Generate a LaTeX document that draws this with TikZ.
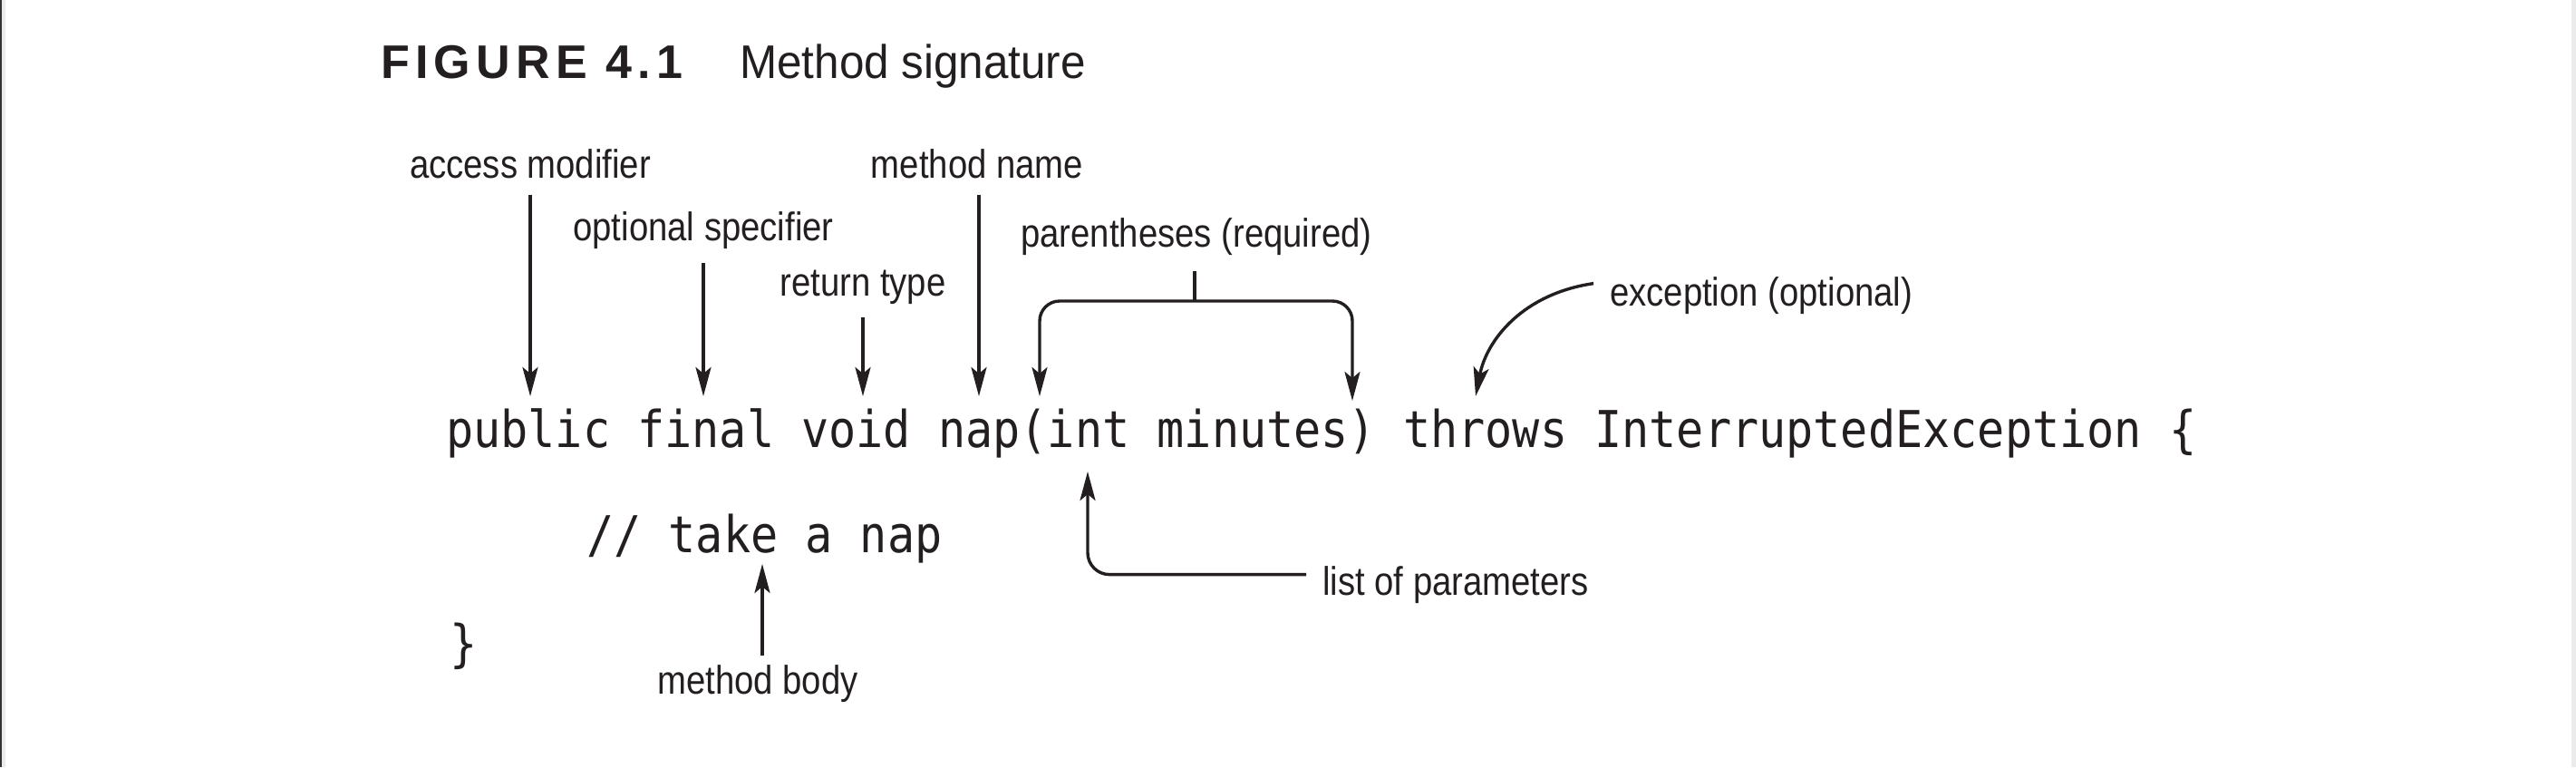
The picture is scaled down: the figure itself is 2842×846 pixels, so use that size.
\documentclass[tikz,border=0pt]{standalone}
\usepackage{fontspec}
\usetikzlibrary{arrows.meta}
\newfontfamily\labelfont[FakeStretch=0.87]{Liberation Sans}
\newfontfamily\ttlfont[FakeStretch=0.95]{Liberation Sans}
\newfontfamily\figfont[LetterSpace=12]{Liberation Sans}
\newfontfamily\codefont[FakeStretch=0.895]{DejaVu Sans Mono}
\definecolor{ink}{HTML}{231F20}
\tikzset{
  lbl/.style={inner sep=0pt, font=\labelfont\fontsize{44}{50}\selectfont, text=ink},
  codetxt/.style={inner sep=0pt, font=\codefont\fontsize{56}{62}\selectfont, text=ink},
  arr/.style={draw=ink, line width=3.4pt, -{Stealth[length=32pt,width=17pt,inset=7pt]}},
  ln/.style={draw=ink, line width=3.4pt},
}
\begin{document}
\begin{tikzpicture}[x=1pt,y=-1pt]
\useasboundingbox (0,0) rectangle (2842,846);
\fill[white] (0,0) rectangle (2842,846);
\fill[black!80] (0,0) rectangle (2,846);
\fill[black!8] (2,0) rectangle (6,846);
\fill[black!8] (2837,0) rectangle (2842,846);

% title
\node[inner sep=0pt, anchor=base west, text=ink, font=\figfont\bfseries\fontsize{52}{58}\selectfont] (fig) at (420,86) {FIGURE 4.1};
\node[inner sep=0pt, anchor=base west, text=ink, font=\ttlfont\fontsize{52}{58}\selectfont] (ttl) at (816,86) {Method signature};

% code
\node[codetxt, anchor=base west] (code) at (492,493) {public final void nap(int minutes) throws InterruptedException \{};
\node[codetxt, anchor=base west] (body) at (647,609) {// take a nap};
\node[codetxt, anchor=base west] (close) at (496,729) {\}};

% labels
\node[lbl, anchor=base] (am) at (585,196) {access modifier};
\node[lbl, anchor=base] (mn) at (1078,196) {method name};
\node[lbl, anchor=base] (os) at (776,265) {optional specifier};
\node[lbl, anchor=base] (rt) at (952,326) {return type};
\node[lbl, anchor=base] (pr) at (1320,272) {parentheses (required)};
\node[lbl, anchor=base west] (ex) at (1776,337) {exception (optional)};
\node[lbl, anchor=base west] (lp) at (1459,656) {list of parameters};
\node[lbl, anchor=base] (mb) at (836,765) {method body};

% targets
\coordinate (tam) at (585,437);
\coordinate (tos) at (776,437);
\coordinate (trt) at (952,437);
\coordinate (tmn) at (1080,437);
\coordinate (tpl) at (1147,437);
\coordinate (tpr) at (1492,442);
\coordinate (brk) at (1318,332);
\coordinate (tex) at (1628,437);
\coordinate (tlp) at (1200,520);
\coordinate (tmb) at (841,622);

% arrows
\draw[arr] (am.south -| tam) ++(0,18) -- (tam);
\draw[arr] (os.south -| tos) ++(0,16) -- (tos);
\draw[arr] (rt.south -| trt) ++(0,15) -- (trt);
\draw[arr] (mn.south -| tmn) ++(0,18) -- (tmn);
\draw[ln] (pr.south -| brk) ++(0,18) -- (brk);
\draw[arr, rounded corners=22pt] (brk) -| (tpl);
\draw[arr, rounded corners=22pt] (brk) -| (tpr);
\draw[arr] (ex.west) ++(-18,-13) coordinate (exs) .. controls (1680,324) and (1640,375) .. (tex);
\draw[arr, rounded corners=24pt] (lp.west) ++(-18,-11) -| (tlp);
\draw[arr] (mb.north -| tmb) ++(0,-10) -- (tmb);
\end{tikzpicture}
\end{document}
